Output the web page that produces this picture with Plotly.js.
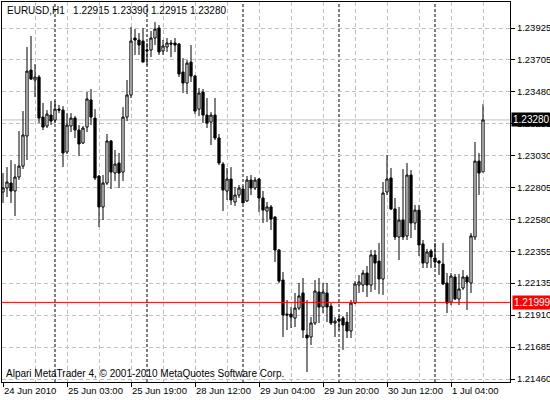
<!DOCTYPE html>
<html><head><meta charset="utf-8">
<script src="https://cdn.plot.ly/plotly-3.0.1.min.js"></script>
<style>html,body{margin:0;padding:0;background:#fff}#chart{width:550px;height:400px}</style>
</head><body><div id="chart"></div>
<script>
const headerText = 'EURUSD,H1\u00a0\u00a0 1.22915 1.23390 1.22915 1.23280';
const copyrightText = 'Alpari MetaTrader 4, \u00a9 2001-2010 MetaQuotes Software Corp.';

const open = [1.22774,1.22802,1.22837,1.22781,1.22879,1.22956,1.23167,1.23630,1.23560,1.23581,
1.23300,1.23237,1.23314,1.23279,1.23356,1.23349,1.23055,1.23237,1.23293,1.23209,
1.23118,1.23230,1.23420,1.23293,1.22886,1.22669,1.22837,1.23132,1.22907,1.22977,
1.22914,1.23300,1.23455,1.23855,1.23841,1.23834,1.23764,1.23771,1.23855,1.23925,
1.23764,1.23792,1.23820,1.23820,1.23813,1.23616,1.23539,1.23686,1.23588,1.23356,
1.23476,1.23314,1.23265,1.23314,1.23153,1.22970,1.22781,1.22865,1.22704,1.22753,
1.22795,1.22711,1.22858,1.22802,1.22865,1.22732,1.22640,1.22669,1.22598,1.22367,
1.22156,1.21917,1.21917,1.21889,1.21959,1.22065,1.21770,1.21756,1.21854,1.22072,
1.21966,1.22065,1.21973,1.21854,1.21882,1.21889,1.21861,1.21798,1.21994,1.22121,
1.22121,1.22205,1.22121,1.22332,1.22289,1.22163,1.22774,1.22872,1.22655,1.22458,
1.22577,1.22465,1.22893,1.22556,1.22647,1.22409,1.22275,1.22360,1.22311,1.22289,
1.22268,1.22135,1.22001,1.22177,1.22023,1.22100,1.22177,1.22135,1.22458,1.22991,
1.22915];
const high = [1.22907,1.22949,1.22998,1.22970,1.23202,1.23342,1.23792,1.23869,1.23672,1.23595,
1.23399,1.23349,1.23413,1.23413,1.23385,1.23377,1.23328,1.23328,1.23307,1.23244,
1.23237,1.23476,1.23497,1.23356,1.22893,1.22893,1.23181,1.23139,1.23069,1.23048,
1.23370,1.23560,1.23932,1.23918,1.23890,1.23925,1.23820,1.23904,1.23967,1.23946,
1.23841,1.23855,1.23841,1.23855,1.23820,1.23714,1.23700,1.23806,1.23595,1.23504,
1.23497,1.23434,1.23335,1.23434,1.23181,1.22984,1.22942,1.22949,1.22809,1.22823,
1.22816,1.22886,1.22893,1.22879,1.22872,1.22781,1.22704,1.22683,1.22605,1.22374,
1.22212,1.22016,1.21966,1.22065,1.22135,1.22170,1.22016,1.21896,1.22156,1.22170,
1.22135,1.22135,1.21994,1.21896,1.21910,1.21903,1.21931,1.22016,1.22149,1.22191,
1.22226,1.22254,1.22367,1.22367,1.22416,1.22844,1.23034,1.22942,1.22732,1.22669,
1.22935,1.22977,1.22928,1.22683,1.22683,1.22437,1.22374,1.22374,1.22416,1.22296,
1.22416,1.22205,1.22205,1.22198,1.22198,1.22226,1.22191,1.22486,1.23125,1.23048,
1.23390];
const low = [1.22697,1.22739,1.22697,1.22605,1.22858,1.22935,1.22998,1.23560,1.23441,1.23258,
1.23209,1.23223,1.23244,1.23258,1.23328,1.22949,1.23041,1.23195,1.23153,1.23027,
1.23111,1.23195,1.23244,1.22858,1.22528,1.22577,1.22823,1.22795,1.22851,1.22802,
1.22851,1.23272,1.23434,1.23736,1.23736,1.23686,1.23665,1.23721,1.23806,1.23736,
1.23736,1.23757,1.23721,1.23757,1.23581,1.23469,1.23462,1.23546,1.23321,1.23307,
1.23258,1.23223,1.23104,1.23139,1.22963,1.22640,1.22718,1.22683,1.22676,1.22732,
1.22697,1.22704,1.22753,1.22788,1.22633,1.22556,1.22563,1.22507,1.22282,1.22135,
1.21756,1.21805,1.21819,1.21826,1.21945,1.21749,1.21510,1.21700,1.21840,1.21854,
1.21924,1.21861,1.21840,1.21756,1.21805,1.21665,1.21749,1.21749,1.21987,1.22065,
1.22072,1.22037,1.22072,1.22086,1.22058,1.22051,1.22753,1.22647,1.22437,1.22296,
1.22437,1.22437,1.22451,1.22507,1.22325,1.22240,1.22240,1.22240,1.22240,1.22191,
1.22121,1.21924,1.21980,1.22016,1.21980,1.22086,1.21945,1.22065,1.22437,1.22753,
1.22915];
const close = [1.22802,1.22844,1.22781,1.22879,1.22956,1.23174,1.23623,1.23567,1.23581,1.23293,
1.23230,1.23321,1.23272,1.23356,1.23349,1.23048,1.23244,1.23293,1.23209,1.23111,
1.23223,1.23427,1.23300,1.22872,1.22669,1.22837,1.23132,1.22914,1.22970,1.22907,
1.23300,1.23455,1.23834,1.23841,1.23806,1.23686,1.23771,1.23855,1.23918,1.23757,
1.23799,1.23820,1.23813,1.23806,1.23602,1.23539,1.23679,1.23588,1.23342,1.23469,
1.23314,1.23258,1.23314,1.23153,1.22977,1.22788,1.22865,1.22718,1.22753,1.22802,
1.22697,1.22858,1.22802,1.22858,1.22732,1.22647,1.22669,1.22584,1.22367,1.22149,
1.21910,1.21910,1.21896,1.21959,1.22044,1.21805,1.21749,1.21854,1.22079,1.21966,
1.22072,1.21966,1.21854,1.21868,1.21868,1.21840,1.21798,1.21994,1.22128,1.22142,
1.22205,1.22121,1.22332,1.22275,1.22163,1.22767,1.22865,1.22655,1.22458,1.22577,
1.22458,1.22893,1.22556,1.22647,1.22402,1.22275,1.22353,1.22318,1.22282,1.22275,
1.22128,1.21994,1.22184,1.22023,1.22093,1.22177,1.22142,1.22465,1.22991,1.22907,
1.23280];

const tickBars = [0,16,32,48,64,80,96,112];
const tickLabels = ['24 Jun 2010','25 Jun 03:00','25 Jun 19:00','28 Jun 12:00','29 Jun 04:00','29 Jun 20:00','30 Jun 12:00','1 Jul 04:00'];
const daySeparators = [13,36,60,84,108];
const priceTicks = [1.23925,1.23705,1.23480,1.23255,1.23030,1.22805,1.22580,1.22355,1.22135,1.21910,1.21685,1.21460];
const bidPrice = 1.23280;
const levelPrice = 1.21999;

const bars = open.map((_, i) => i);
const FONT = 'Liberation Sans, Arial, sans-serif';
const GRID = '#c0c0c0';

const trace = {
  type: 'candlestick', x: bars, open: open, high: high, low: low, close: close,
  increasing: {line: {color: '#000', width: 1}, fillcolor: '#fff'},
  decreasing: {line: {color: '#000', width: 1}, fillcolor: '#000'},
  whiskerwidth: 0, hoverinfo: 'skip', showlegend: false
};

const shapes = [];
daySeparators.forEach(b => shapes.push({type: 'line', xref: 'x', yref: 'paper', x0: b, x1: b, y0: 0, y1: 1,
  line: {color: '#000', width: 1, dash: '3px,2px'}, layer: 'below'}));
shapes.push({type: 'line', xref: 'paper', yref: 'y', x0: 0, x1: 1, y0: bidPrice, y1: bidPrice,
  line: {color: GRID, width: 1}, layer: 'below'});
shapes.push({type: 'line', xref: 'paper', yref: 'y', x0: 0, x1: 1, y0: levelPrice, y1: levelPrice,
  line: {color: '#ff0000', width: 1}, layer: 'above'});

const annotations = [
  {xref: 'paper', yref: 'paper', x: 0, y: 1, xanchor: 'left', yanchor: 'top', xshift: 3, yshift: -1,
   text: headerText, showarrow: false, font: {family: FONT, size: 10, color: '#000'}},
  {xref: 'paper', yref: 'paper', x: 0, y: 0, xanchor: 'left', yanchor: 'bottom', xshift: 2, yshift: 1,
   text: copyrightText, showarrow: false, font: {family: FONT, size: 10, color: '#000'}},
  {xref: 'paper', yref: 'y', x: 1, y: bidPrice, xanchor: 'left', yanchor: 'middle', xshift: 1,
   text: bidPrice.toFixed(5), showarrow: false, bgcolor: '#000', borderpad: 1,
   font: {family: FONT, size: 10, color: '#fff'}},
  {xref: 'paper', yref: 'y', x: 1, y: levelPrice, xanchor: 'left', yanchor: 'middle', xshift: 2,
   text: levelPrice.toFixed(5), showarrow: false, bgcolor: '#ff0000', borderpad: 1,
   font: {family: FONT, size: 10, color: '#fff'}}
];

const layout = {
  width: 550, height: 400, margin: {l: 2, r: 40, t: 2, b: 18},
  paper_bgcolor: '#fff', plot_bgcolor: '#fff', boxgap: 0.2,
  font: {family: FONT, size: 10, color: '#000'},
  xaxis: {range: [-0.25, 126.75], tickmode: 'array', tickvals: tickBars, ticktext: tickLabels,
    ticks: 'outside', ticklen: 4, tickcolor: '#000', ticklabelposition: 'outside right', tickangle: 0,
    showgrid: true, gridcolor: GRID, griddash: '4px,3px', gridwidth: 1,
    minor: {tickmode: 'linear', tick0: 0, dtick: 8, showgrid: true, gridcolor: GRID, griddash: '4px,3px', ticks: ''},
    showline: true, mirror: true, linecolor: '#000', linewidth: 1, zeroline: false,
    rangeslider: {visible: false}, fixedrange: true, tickfont: {family: FONT, size: 9.5, color: '#000'}},
  yaxis: {range: [1.21440, 1.24108], side: 'right', tickmode: 'array', tickvals: priceTicks, tickformat: '.5f',
    ticks: 'outside', ticklen: 4, tickcolor: '#000',
    showgrid: true, gridcolor: GRID, griddash: '4px,3px', gridwidth: 1,
    showline: true, mirror: true, linecolor: '#000', linewidth: 1, zeroline: false, fixedrange: true,
    tickfont: {family: FONT, size: 9.5, color: '#000'}},
  shapes: shapes, annotations: annotations
};

Plotly.newPlot('chart', [trace], layout, {staticPlot: true, displayModeBar: false});
</script></body></html>
